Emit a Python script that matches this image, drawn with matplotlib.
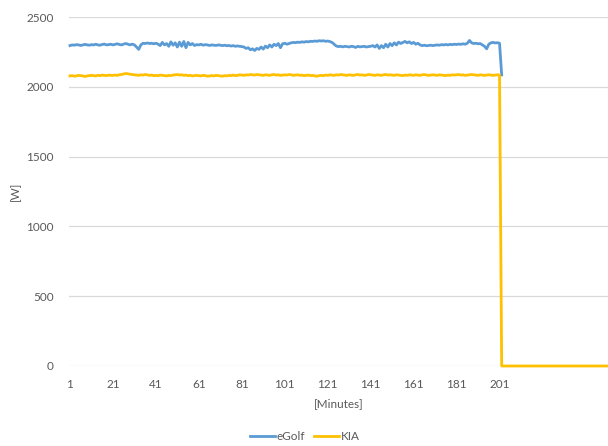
import matplotlib
matplotlib.use("Agg")
import matplotlib.pyplot as plt

# eGolf power per minute [W], minutes 1..202
egolf = [
    2295, 2300, 2298, 2302, 2300, 2296, 2300, 2304, 2300, 2298,
    2302, 2300, 2305, 2300, 2298, 2303, 2306, 2300, 2302, 2305,
    2300, 2304, 2308, 2303, 2300, 2306, 2310, 2305, 2300, 2306,
    2300, 2285, 2268, 2300, 2312, 2310, 2314, 2310, 2312, 2308,
    2312, 2306, 2295, 2318, 2300, 2310, 2290, 2322, 2298, 2315,
    2285, 2320, 2290, 2325, 2280, 2318, 2300, 2310, 2296, 2302,
    2300, 2305, 2298, 2302, 2300, 2296, 2300, 2298, 2296, 2300,
    2298, 2295, 2298, 2294, 2296, 2292, 2295, 2290, 2293, 2290,
    2288, 2285, 2275, 2280, 2265, 2272, 2260, 2275, 2268, 2285,
    2270, 2292, 2280, 2300, 2285, 2305, 2295, 2310, 2280, 2308,
    2312, 2305, 2310, 2315, 2318, 2316, 2320, 2318, 2322, 2320,
    2324, 2322, 2326, 2325, 2328, 2326, 2330, 2328, 2330, 2326,
    2328, 2324, 2318, 2305, 2292, 2288, 2290, 2286, 2290, 2288,
    2285, 2290, 2288, 2282, 2290, 2286, 2288, 2290, 2285, 2288,
    2290, 2295, 2285, 2300, 2275, 2295, 2280, 2305, 2285, 2310,
    2295, 2315, 2300, 2320, 2310, 2318, 2325, 2315, 2322, 2310,
    2318, 2305, 2312, 2300, 2295, 2298, 2294, 2296, 2298, 2295,
    2298, 2300, 2298, 2302, 2300, 2303, 2300, 2304, 2302, 2305,
    2303, 2306, 2304, 2308, 2305, 2312, 2332, 2315, 2310, 2312,
    2308, 2310, 2300, 2290, 2272, 2305, 2315, 2318, 2314, 2316,
    2312, 2085,
]

# KIA power per minute [W], minutes 1..251
kia = [
    2078, 2080, 2076, 2078, 2082, 2080, 2078, 2074, 2078, 2080,
    2082, 2080, 2078, 2082, 2080, 2084, 2082, 2080, 2084, 2082,
    2082, 2084, 2082, 2086, 2088, 2092, 2095, 2093, 2090, 2088,
    2086, 2084, 2082, 2086, 2084, 2088, 2085, 2082, 2084, 2080,
    2082, 2080, 2084, 2082, 2080, 2078, 2082, 2080, 2084, 2086,
    2088, 2084, 2086, 2082, 2084, 2080, 2082, 2078, 2080, 2082,
    2080, 2078, 2082, 2080, 2076, 2078, 2080, 2078, 2082, 2080,
    2078, 2076, 2080, 2078, 2082, 2080, 2084, 2080, 2082, 2086,
    2084, 2082, 2086, 2084, 2088, 2086, 2084, 2088, 2086, 2084,
    2082, 2086, 2084, 2082, 2086, 2088, 2084, 2086, 2082, 2084,
    2086, 2084, 2088, 2086, 2082, 2084, 2086, 2082, 2084, 2080,
    2082, 2084, 2080, 2082, 2078, 2076, 2080, 2082, 2080, 2084,
    2082, 2086, 2084, 2082, 2086, 2084, 2088, 2086, 2084, 2082,
    2086, 2084, 2082, 2086, 2088, 2084, 2086, 2082, 2084, 2088,
    2086, 2084, 2082, 2086, 2084, 2082, 2086, 2088, 2084, 2086,
    2084, 2082, 2086, 2084, 2082, 2080, 2084, 2082, 2086, 2084,
    2082, 2086, 2084, 2082, 2086, 2088, 2084, 2082, 2084, 2086,
    2084, 2082, 2086, 2084, 2082, 2080, 2084, 2082, 2086, 2084,
    2086, 2088, 2084, 2086, 2082, 2084, 2086, 2088, 2086, 2084,
    2082, 2086, 2084, 2082, 2084, 2086, 2084, 2082, 2084, 2086,
    2084, 0, 0, 0, 0, 0, 0, 0, 0, 0,
    0, 0, 0, 0, 0, 0, 0, 0, 0, 0,
    0, 0, 0, 0, 0, 0, 0, 0, 0, 0,
    0, 0, 0, 0, 0, 0, 0, 0, 0, 0,
    0, 0, 0, 0, 0, 0, 0, 0, 0, 0,
    0,
]

x_ticks = [1, 21, 41, 61, 81, 101, 121, 141, 161, 181, 201]
y_ticks = [0, 500, 1000, 1500, 2000, 2500]

plt.rcParams['font.family'] = ['Lato', 'DejaVu Sans']

fig = plt.figure(figsize=(6.08, 4.46), dpi=100)
ax = fig.add_axes([68.9 / 608, 1 - 366 / 446, (608 - 68.9) / 608, 349 / 446])

ax.plot(range(1, len(egolf) + 1), egolf, color='#5B9BD5', lw=2.0, label='eGolf',
        clip_on=False, solid_joinstyle='round')
ax.plot(range(1, len(kia) + 1), kia, color='#FFC000', lw=2.0, label='KIA',
        clip_on=False, solid_joinstyle='round')

ax.set_xlim(0.5, len(kia) + 0.5)
ax.set_ylim(0, 2500)
ax.set_xticks(x_ticks)
ax.set_yticks(y_ticks)
ax.grid(axis='y', color='#D9D9D9', lw=0.9)
ax.set_axisbelow(True)
for s in ax.spines.values():
    s.set_visible(False)
ax.tick_params(length=0, colors='#595959', labelsize=8.5)
ax.tick_params(axis='y', pad=11)
ax.tick_params(axis='x', pad=9)

ax.set_xlabel('[Minutes]', color='#595959', fontsize=8.5, labelpad=6)
ax.set_ylabel('[W]', color='#595959', fontsize=8.5, labelpad=4)

fig.legend(loc='center', bbox_to_anchor=(305 / 608, 1 - 437 / 446), ncol=2,
           frameon=False, fontsize=8.5, handlelength=2.1, handletextpad=0.15,
           columnspacing=0.8, labelcolor='#595959')

fig.savefig('out.png', dpi=100)
